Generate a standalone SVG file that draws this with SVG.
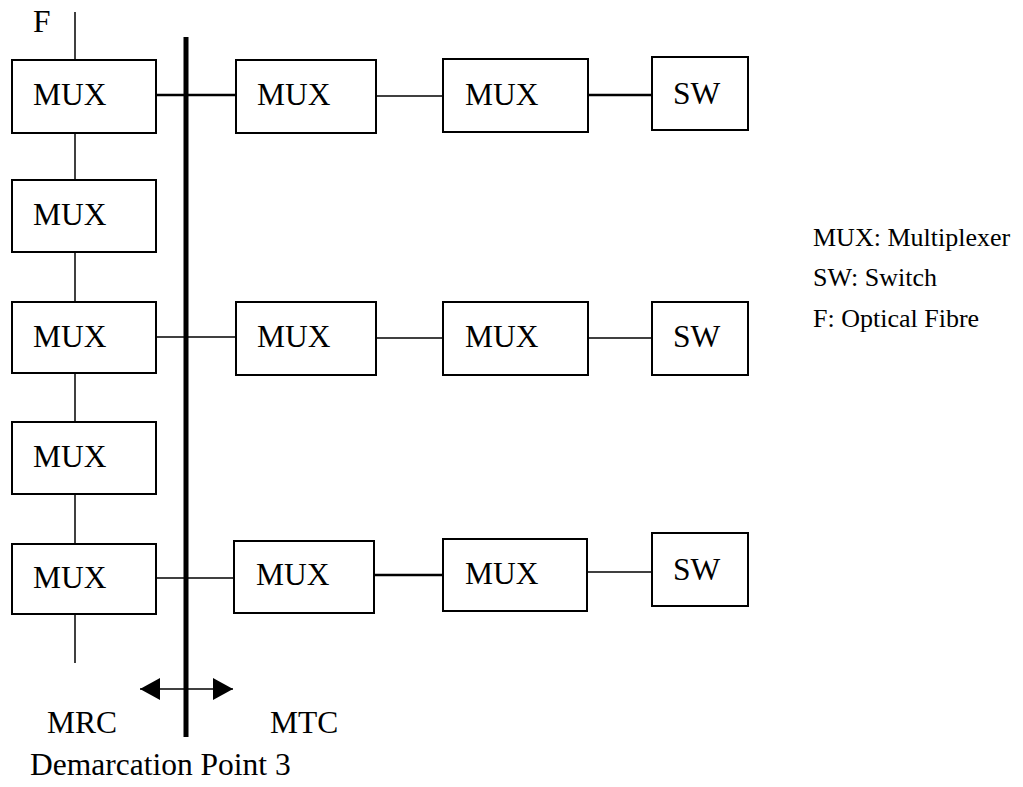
<svg xmlns="http://www.w3.org/2000/svg" width="1023" height="787" viewBox="0 0 1023 787">
<style>
.box{fill:#fff;stroke:#000;stroke-width:2}
.t{font-family:"Liberation Serif","Times New Roman",serif;font-size:31.5px;fill:#000}
.lg{font-family:"Liberation Serif","Times New Roman",serif;font-size:26px;fill:#000}
.c{stroke:#000;stroke-width:1.5;fill:none}
.ct{stroke:#000;stroke-width:2.5;fill:none}
</style>
<defs>
<marker id="ah" viewBox="0 0 20 22" refX="20" refY="11" markerWidth="20" markerHeight="22" markerUnits="userSpaceOnUse" orient="auto-start-reverse">
<path d="M0,0 L20,11 L0,22 Z" fill="#000"/>
</marker>
</defs>
<rect width="1023" height="787" fill="#fff"/>
<g id="connectors">
<line class="c" x1="75" y1="12" x2="75" y2="60"/>
<line class="c" x1="75" y1="133" x2="75" y2="180"/>
<line class="c" x1="75" y1="252" x2="75" y2="302"/>
<line class="c" x1="75" y1="373" x2="75" y2="422"/>
<line class="c" x1="75" y1="494" x2="75" y2="544"/>
<line class="c" x1="75" y1="614" x2="75" y2="663"/>
<line class="ct" x1="156" y1="95" x2="236" y2="95"/>
<line class="c" x1="376" y1="96" x2="443" y2="96"/>
<line class="ct" x1="588" y1="95" x2="652" y2="95"/>
<line class="c" x1="156" y1="337" x2="236" y2="337"/>
<line class="c" x1="376" y1="338" x2="443" y2="338"/>
<line class="c" x1="588" y1="338" x2="652" y2="338"/>
<line class="c" x1="156" y1="578" x2="234" y2="578"/>
<line class="ct" x1="374" y1="575" x2="443" y2="575"/>
<line class="c" x1="587" y1="572" x2="652" y2="572"/>
<line x1="186" y1="37" x2="186" y2="737" stroke="#000" stroke-width="5"/>
<line class="c" x1="140" y1="689" x2="233" y2="689" marker-start="url(#ah)" marker-end="url(#ah)"/>
</g>
<g id="mux-l1"><rect class="box" x="12" y="60" width="144" height="73"/><text class="t" x="33" y="105">MUX</text></g>
<g id="mux-l2"><rect class="box" x="12" y="180" width="144" height="72"/><text class="t" x="33" y="225">MUX</text></g>
<g id="mux-l3"><rect class="box" x="12" y="302" width="144" height="71"/><text class="t" x="33" y="347">MUX</text></g>
<g id="mux-l4"><rect class="box" x="12" y="422" width="144" height="72"/><text class="t" x="33" y="467">MUX</text></g>
<g id="mux-l5"><rect class="box" x="12" y="544" width="144" height="70"/><text class="t" x="33" y="588">MUX</text></g>
<g id="mux-m1"><rect class="box" x="236" y="60" width="140" height="73"/><text class="t" x="257" y="105">MUX</text></g>
<g id="mux-m2"><rect class="box" x="236" y="302" width="140" height="73"/><text class="t" x="257" y="347">MUX</text></g>
<g id="mux-m3"><rect class="box" x="234" y="541" width="140" height="72"/><text class="t" x="256" y="585">MUX</text></g>
<g id="mux-r1"><rect class="box" x="443" y="59" width="145" height="73"/><text class="t" x="465" y="105">MUX</text></g>
<g id="mux-r2"><rect class="box" x="443" y="302" width="145" height="73"/><text class="t" x="465" y="347">MUX</text></g>
<g id="mux-r3"><rect class="box" x="443" y="539" width="144" height="72"/><text class="t" x="465" y="584">MUX</text></g>
<g id="sw1"><rect class="box" x="652" y="57" width="96" height="73"/><text class="t" x="673" y="104">SW</text></g>
<g id="sw2"><rect class="box" x="652" y="302" width="96" height="73"/><text class="t" x="673" y="347">SW</text></g>
<g id="sw3"><rect class="box" x="652" y="533" width="96" height="73"/><text class="t" x="673" y="580">SW</text></g>
<g id="labels">
<text class="t" x="33" y="32">F</text>
<text class="t" x="47" y="733">MRC</text>
<text class="t" x="270" y="733">MTC</text>
<text class="t" x="30" y="775">Demarcation Point 3</text>
</g>
<g id="legend">
<text class="lg" x="813" y="246">MUX: Multiplexer</text>
<text class="lg" x="813" y="286">SW: Switch</text>
<text class="lg" x="813" y="327">F: Optical Fibre</text>
</g>
</svg>
